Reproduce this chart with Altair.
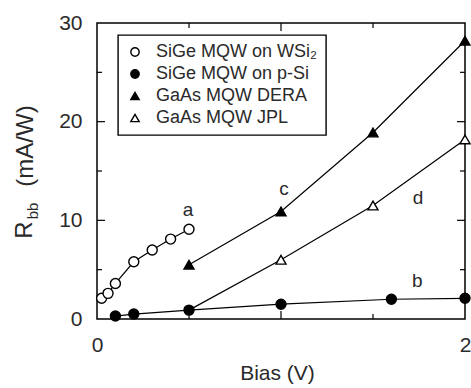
import altair as alt
import pandas as pd

# ---- data ----
series = ["SiGe MQW on WSi₂", "SiGe MQW on p-Si", "GaAs MQW DERA", "GaAs MQW JPL"]

a_bias = [0.025, 0.06, 0.1, 0.2, 0.3, 0.4, 0.5]
a_r = [2.1, 2.6, 3.6, 5.8, 7.0, 8.1, 9.1]

b_bias = [0.1, 0.2, 0.5, 1.0, 1.6, 2.0]
b_r = [0.3, 0.5, 0.9, 1.5, 2.0, 2.1]

c_bias = [0.5, 1.0, 1.5, 2.0]
c_r = [5.5, 10.9, 18.9, 28.2]

d_bias = [0.5, 1.0, 1.5, 2.0]
d_r = [0.9, 6.0, 11.5, 18.2]
d_marker = [False, True, True, True]

label_text = ["a", "b", "c", "d"]
label_bias = [0.495, 1.74, 1.016, 1.745]
label_r = [11.0, 3.9, 13.2, 12.3]

x_labels = [0, 1, 2]
y_labels = [0, 10, 20, 30]
x_major = [1.0]
x_minor = [0.5, 1.5]
y_major = [10, 20]
y_minor = [5, 15, 25]

shapes = ["circle", "circle", "triangle-up", "triangle-up"]
fills = ["white", "black", "black", "white"]

rows = []
for name, bx, ry, mk in [
    (series[0], a_bias, a_r, [True] * len(a_bias)),
    (series[1], b_bias, b_r, [True] * len(b_bias)),
    (series[2], c_bias, c_r, [True] * len(c_bias)),
    (series[3], d_bias, d_r, d_marker),
]:
    for x, y, m in zip(bx, ry, mk):
        rows.append({"series": name, "bias": x, "r": y, "marker": m})
df = pd.DataFrame(rows)
df_lab = pd.DataFrame({"label": label_text, "bias": label_bias, "r": label_r})

FONT = "Liberation Sans"
TXT = "#2a2a2a"
W, H = 368, 296

xscale = alt.Scale(domain=[0, 2], nice=False, zero=False)
yscale = alt.Scale(domain=[0, 30], nice=False, zero=False)
xaxis = alt.Axis(values=x_labels, format="d", ticks=False, domain=False, grid=False,
                 labelFlush=False, labelOverlap=False, labelFontSize=21, labelFont=FONT,
                 labelColor=TXT, labelPadding=15, title="Bias (V)", titleFont=FONT,
                 titleFontSize=21, titleFontWeight="normal", titleColor=TXT, titlePadding=7,
                 titleX=180)
yaxis = alt.Axis(values=y_labels, format="d", ticks=False, domain=False, grid=False,
                 labelFlush=False, labelOverlap=False, labelFontSize=21, labelFont=FONT,
                 labelColor=TXT, labelPadding=15, title=None)

X = alt.X("bias:Q", scale=xscale, axis=xaxis)
Y = alt.Y("r:Q", scale=yscale, axis=yaxis)

lines = alt.Chart(df).mark_line(color="black", strokeWidth=1.2).encode(
    x=X, y=Y, detail="series:N", order="bias:Q")

leg = alt.Legend(title=None, labelLimit=400)
points = alt.Chart(df).transform_filter("datum.marker").mark_point(
    size=100, opacity=1, strokeWidth=1.4).encode(
    x=X, y=Y,
    shape=alt.Shape("series:N", scale=alt.Scale(domain=series, range=shapes), legend=leg),
    fill=alt.Fill("series:N", scale=alt.Scale(domain=series, range=fills), legend=leg),
    stroke=alt.Stroke("series:N", scale=alt.Scale(domain=series, range=["black"] * 4), legend=leg),
)

labels = alt.Chart(df_lab).mark_text(fontSize=19, font=FONT, color=TXT).encode(
    x=X, y=Y, text="label:N")


def xticks(vals, length):
    d = pd.DataFrame({"bias": vals})
    bot = alt.Chart(d).mark_rule(color="black", strokeWidth=1.2).encode(
        x=X, y=alt.value(H), y2=alt.value(H - length))
    top = alt.Chart(d).mark_rule(color="black", strokeWidth=1.2).encode(
        x=X, y=alt.value(0), y2=alt.value(length))
    return [bot, top]


def yticks(vals, length):
    d = pd.DataFrame({"r": vals})
    left = alt.Chart(d).mark_rule(color="black", strokeWidth=1.2).encode(
        y=Y, x=alt.value(0), x2=alt.value(length))
    right = alt.Chart(d).mark_rule(color="black", strokeWidth=1.2).encode(
        y=Y, x=alt.value(W), x2=alt.value(W - length))
    return [left, right]


tick_layers = xticks(x_major, 8) + xticks(x_minor, 5) + yticks(y_major, 8) + yticks(y_minor, 5)


def vtext(t, x, y, size):
    return alt.Chart(pd.DataFrame({"t": [t]})).mark_text(
        angle=270, fontSize=size, font=FONT, color=TXT, align="center", baseline="middle"
    ).encode(x=alt.value(x), y=alt.value(y), text="t:N", angle=alt.value(270))


ytitle = [vtext("R", -72, 207, 24), vtext("bb", -64, 188, 15), vtext("(mA/W)", -71, 123, 24)]

chart = alt.layer(lines, *tick_layers, points, labels, *ytitle).properties(
    width=W, height=H,
    autosize=alt.AutoSizeParams(type="none"),
    padding={"left": 97, "top": 23, "right": 6, "bottom": 69},
    background="white",
).configure_view(stroke="black", strokeWidth=1.5).configure_legend(
    orient="none", legendX=21, legendY=12, strokeColor="black", strokeWidth=1.4,
    fillColor="white", padding=8, labelFont=FONT, labelFontSize=18, labelColor=TXT,
    rowPadding=4, symbolSize=70, symbolStrokeWidth=1.4,
    symbolOpacity=1, labelOffset=12, cornerRadius=0, labelLimit=400,
)

chart.save("out.html", embed_options={"renderer": "svg", "actions": False})
